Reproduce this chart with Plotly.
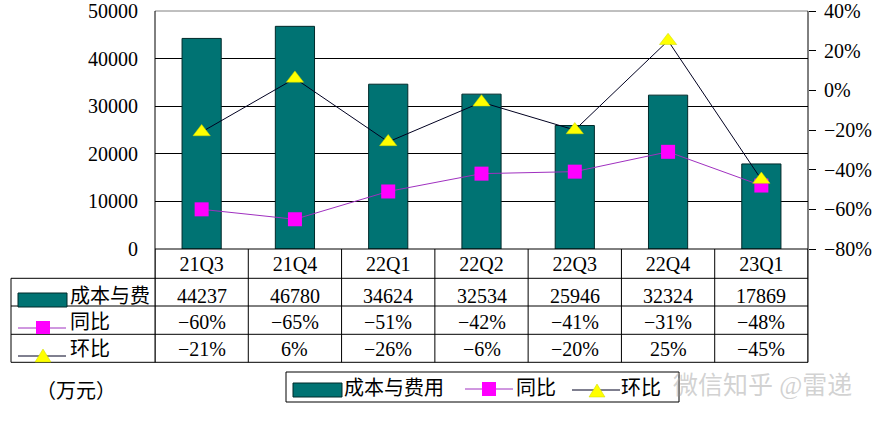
import plotly.graph_objects as go

categories = ["21Q3", "21Q4", "22Q1", "22Q2", "22Q3", "22Q4", "23Q1"]
cost = [44237, 46780, 34624, 32534, 25946, 32324, 17869]
yoy = [-60, -65, -51, -42, -41, -31, -48]
qoq = [-21, 6, -26, -6, -20, 25, -45]
series_names = ["成本与费用", "同比", "环比"]
row_labels = ["成本与费", "同比", "环比"]
unit_label = "（万元）"
watermark = "微信知乎 @雷递"

W, H = 873, 422
L, R, T, B = 155, 808, 11, 249


def X(px):
    return (px - L) / (R - L)


def Y(py):
    return (B - py) / (B - T)


TEAL = "#007373"
MAG = "#FF00FF"
MAGLINE = "#A030C0"
YEL = "#FFFF00"
FONT = "Liberation Serif, Noto Sans CJK SC, serif"
FS = 20

fig = go.Figure()
fig.add_trace(go.Bar(
    x=categories, y=cost, name=series_names[0], showlegend=False,
    marker=dict(color=TEAL, line=dict(color="#002a2a", width=1)),
))
fig.add_trace(go.Scatter(
    x=categories, y=[v / 100 for v in yoy], yaxis="y2", name=series_names[1],
    mode="lines+markers", showlegend=False,
    line=dict(color=MAGLINE, width=1),
    marker=dict(symbol="square", size=14, color=MAG),
))
fig.add_trace(go.Scatter(
    x=categories, y=[v / 100 for v in qoq], yaxis="y2", name=series_names[2],
    mode="lines+markers", showlegend=False,
    line=dict(color="#000020", width=1),
    marker=dict(symbol="triangle-up", size=15, color=YEL,
                line=dict(color="#C8D800", width=0.5)),
))

shapes = []
def hline(x0, x1, y, color="black", xref="paper"):
    shapes.append(dict(type="line", xref=xref, yref="paper", x0=x0, x1=x1, y0=y, y1=y,
                       line=dict(color=color, width=1), layer="above"))

def vline(x, y0, y1, color="black", xref="paper"):
    shapes.append(dict(type="line", xref=xref, yref="paper", x0=x, x1=x, y0=y0, y1=y1,
                       line=dict(color=color, width=1), layer="above"))

# plot frame
hline(0, 1, 1, color="#808080")
hline(0, 1, 0)
vline(0, Y(362.3), 1)
vline(1, Y(362.3), 1)
# category separators
for i in range(len(categories) + 1):
    vline(i - 0.5, Y(362.3), 0, xref="x")
# table horizontal lines
for py in [278.3, 306, 334.3, 362.3]:
    hline(X(11), 1, Y(py))
vline(X(11), Y(362.3), Y(278.3))

# table keys
shapes.append(dict(type="rect", xref="paper", yref="paper", x0=X(18), x1=X(67), y0=Y(307), y1=Y(293),
                   fillcolor=TEAL, line=dict(color="#002a2a", width=1), layer="above"))
hline(X(18), X(66), Y(328), color=MAGLINE)
shapes.append(dict(type="rect", xref="paper", yref="paper", x0=X(36), x1=X(50), y0=Y(334), y1=Y(321),
                   fillcolor=MAG, line=dict(width=0), layer="above"))
hline(X(18), X(66), Y(356), color="#000020")
shapes.append(dict(type="path", xref="paper", yref="paper",
                   path=f"M {X(35)} {Y(362)} L {X(51)} {Y(362)} L {X(43)} {Y(349)} Z",
                   fillcolor=YEL, line=dict(color="#C8D800", width=0.5), layer="above"))

# legend box
shapes.append(dict(type="rect", xref="paper", yref="paper", x0=X(286), x1=X(679), y0=Y(402), y1=Y(372),
                   fillcolor="white", line=dict(color="black", width=1), layer="above"))
shapes.append(dict(type="rect", xref="paper", yref="paper", x0=X(293), x1=X(342), y0=Y(397), y1=Y(383),
                   fillcolor=TEAL, line=dict(color="#002a2a", width=1), layer="above"))
hline(X(465), X(513), Y(389), color=MAGLINE)
shapes.append(dict(type="rect", xref="paper", yref="paper", x0=X(482), x1=X(496), y0=Y(396), y1=Y(382),
                   fillcolor=MAG, line=dict(width=0), layer="above"))
hline(X(572), X(620), Y(390), color="#000020")
shapes.append(dict(type="path", xref="paper", yref="paper",
                   path=f"M {X(589)} {Y(397)} L {X(605)} {Y(397)} L {X(597)} {Y(384)} Z",
                   fillcolor=YEL, line=dict(color="#C8D800", width=0.5), layer="above"))

ann = []
def text(x, y, s, xanchor="center", xref="paper", size=FS, color="black"):
    ann.append(dict(x=x, y=y, xref=xref, yref="paper", text=s, showarrow=False,
                    xanchor=xanchor, yanchor="middle", font=dict(family=FONT, size=size, color=color)))

row_y = [Y(296), Y(322), Y(349)]
for lbl, yy in zip(row_labels, row_y):
    text(X(68), yy, lbl, xanchor="left")
for i in range(len(categories)):
    text(i, row_y[0], str(cost[i]), xref="x")
    text(i, row_y[1], f"{yoy[i]}%".replace("-", "−"), xref="x")
    text(i, row_y[2], f"{qoq[i]}%".replace("-", "−"), xref="x")

text(X(76), Y(391), unit_label)
text(X(342), Y(388), series_names[0], xanchor="left")
text(X(514), Y(388), series_names[1], xanchor="left")
text(X(619), Y(388), series_names[2], xanchor="left")
text(X(762), Y(386), watermark, size=25, color="rgba(165,165,165,0.5)")

fig.update_layout(
    width=W, height=H,
    margin=dict(l=L, r=W - R, t=T, b=H - B, pad=0),
    paper_bgcolor="white", plot_bgcolor="white",
    bargap=0.58,
    font=dict(family=FONT, size=FS, color="black"),
    xaxis=dict(type="category", range=[-0.5, len(categories) - 0.5], showgrid=False,
               showline=False, ticks="", zeroline=False, automargin=False,
               tickfont=dict(family=FONT, size=FS), ticklabelstandoff=1),
    yaxis=dict(range=[0, 50000], dtick=10000, tickformat="d", showgrid=True, gridcolor="black",
               gridwidth=1, zeroline=False, showline=False, ticks="", ticklabelstandoff=16,
               automargin=False, tickfont=dict(family=FONT, size=FS)),
    yaxis2=dict(overlaying="y", side="right", range=[-0.8, 0.4], dtick=0.2, tickformat=".0%",
                showgrid=False, zeroline=False, showline=False, ticks="outside", ticklen=7,
                automargin=False, tickcolor="black", tickfont=dict(family=FONT, size=FS),
                ticklabelstandoff=4),
    shapes=shapes, annotations=ann,
)

fig.write_html("out.html", config={"displayModeBar": False},
               post_script="document.body.style.margin='0';document.body.style.overflow='hidden';")
